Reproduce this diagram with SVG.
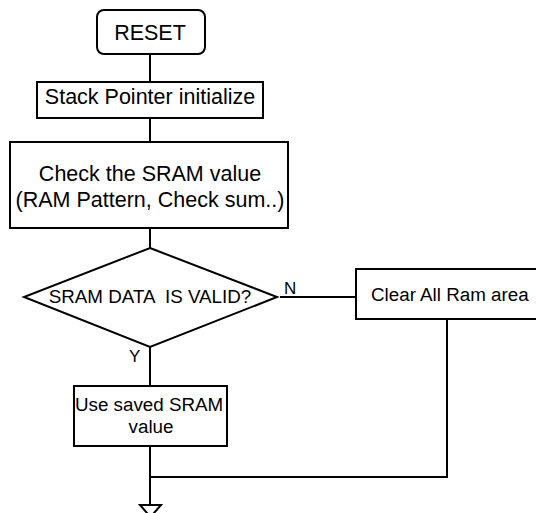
<svg xmlns="http://www.w3.org/2000/svg" width="536" height="513" viewBox="0 0 536 513">
<style>
.box{fill:#fff;stroke:#000;stroke-width:2}
.ln{fill:none;stroke:#000;stroke-width:2}
text{font-family:"Liberation Sans",Arial,sans-serif;fill:#000}
.big{font-size:21.5px}
.mid{font-size:18.8px}
.lab{font-size:17px}
</style>
<rect width="536" height="513" fill="#fff"/>
<g id="connectors">
<line class="ln" x1="150" y1="54" x2="150" y2="82"/>
<line class="ln" x1="150" y1="118" x2="150" y2="142"/>
<line class="ln" x1="150" y1="228" x2="150" y2="248"/>
<line class="ln" x1="280" y1="297" x2="356" y2="297"/>
<line class="ln" x1="150" y1="347" x2="150" y2="386"/>
<line class="ln" x1="150" y1="446" x2="150" y2="505"/>
<polyline class="ln" points="447,319 447,477 151,477"/>
<polygon class="ln" points="140,505 161,505 150.5,517"/>
<text class="lab" x="284" y="294">N</text>
<text class="lab" x="129" y="362">Y</text>
</g>
<g id="reset">
<rect class="box" x="97" y="10" width="108" height="44" rx="7"/>
<text class="big" x="150" y="39.5" text-anchor="middle">RESET</text>
</g>
<g id="stack">
<rect class="box" x="37" y="82" width="226" height="36"/>
<text class="big" x="150" y="103.5" text-anchor="middle">Stack Pointer initialize</text>
</g>
<g id="check">
<rect class="box" x="10" y="142" width="278" height="86"/>
<text class="big" x="150" y="181" text-anchor="middle">Check the SRAM value</text>
<text class="big" x="150" y="206.5" text-anchor="middle">(RAM Pattern, Check sum..)</text>
</g>
<g id="decision">
<polygon class="box" points="150,248 277,297 150,347 24,297"/>
<text class="mid" x="150" y="303" text-anchor="middle" xml:space="preserve">SRAM DATA  IS VALID?</text>
</g>
<g id="clear">
<rect class="box" x="356" y="269" width="190" height="50"/>
<text class="mid" x="371" y="301">Clear All Ram area</text>
</g>
<g id="use">
<rect class="box" x="74" y="386" width="153" height="60"/>
<text class="mid" x="75" y="411">Use saved SRAM</text>
<text class="mid" x="151" y="433" text-anchor="middle">value</text>
</g>
</svg>
